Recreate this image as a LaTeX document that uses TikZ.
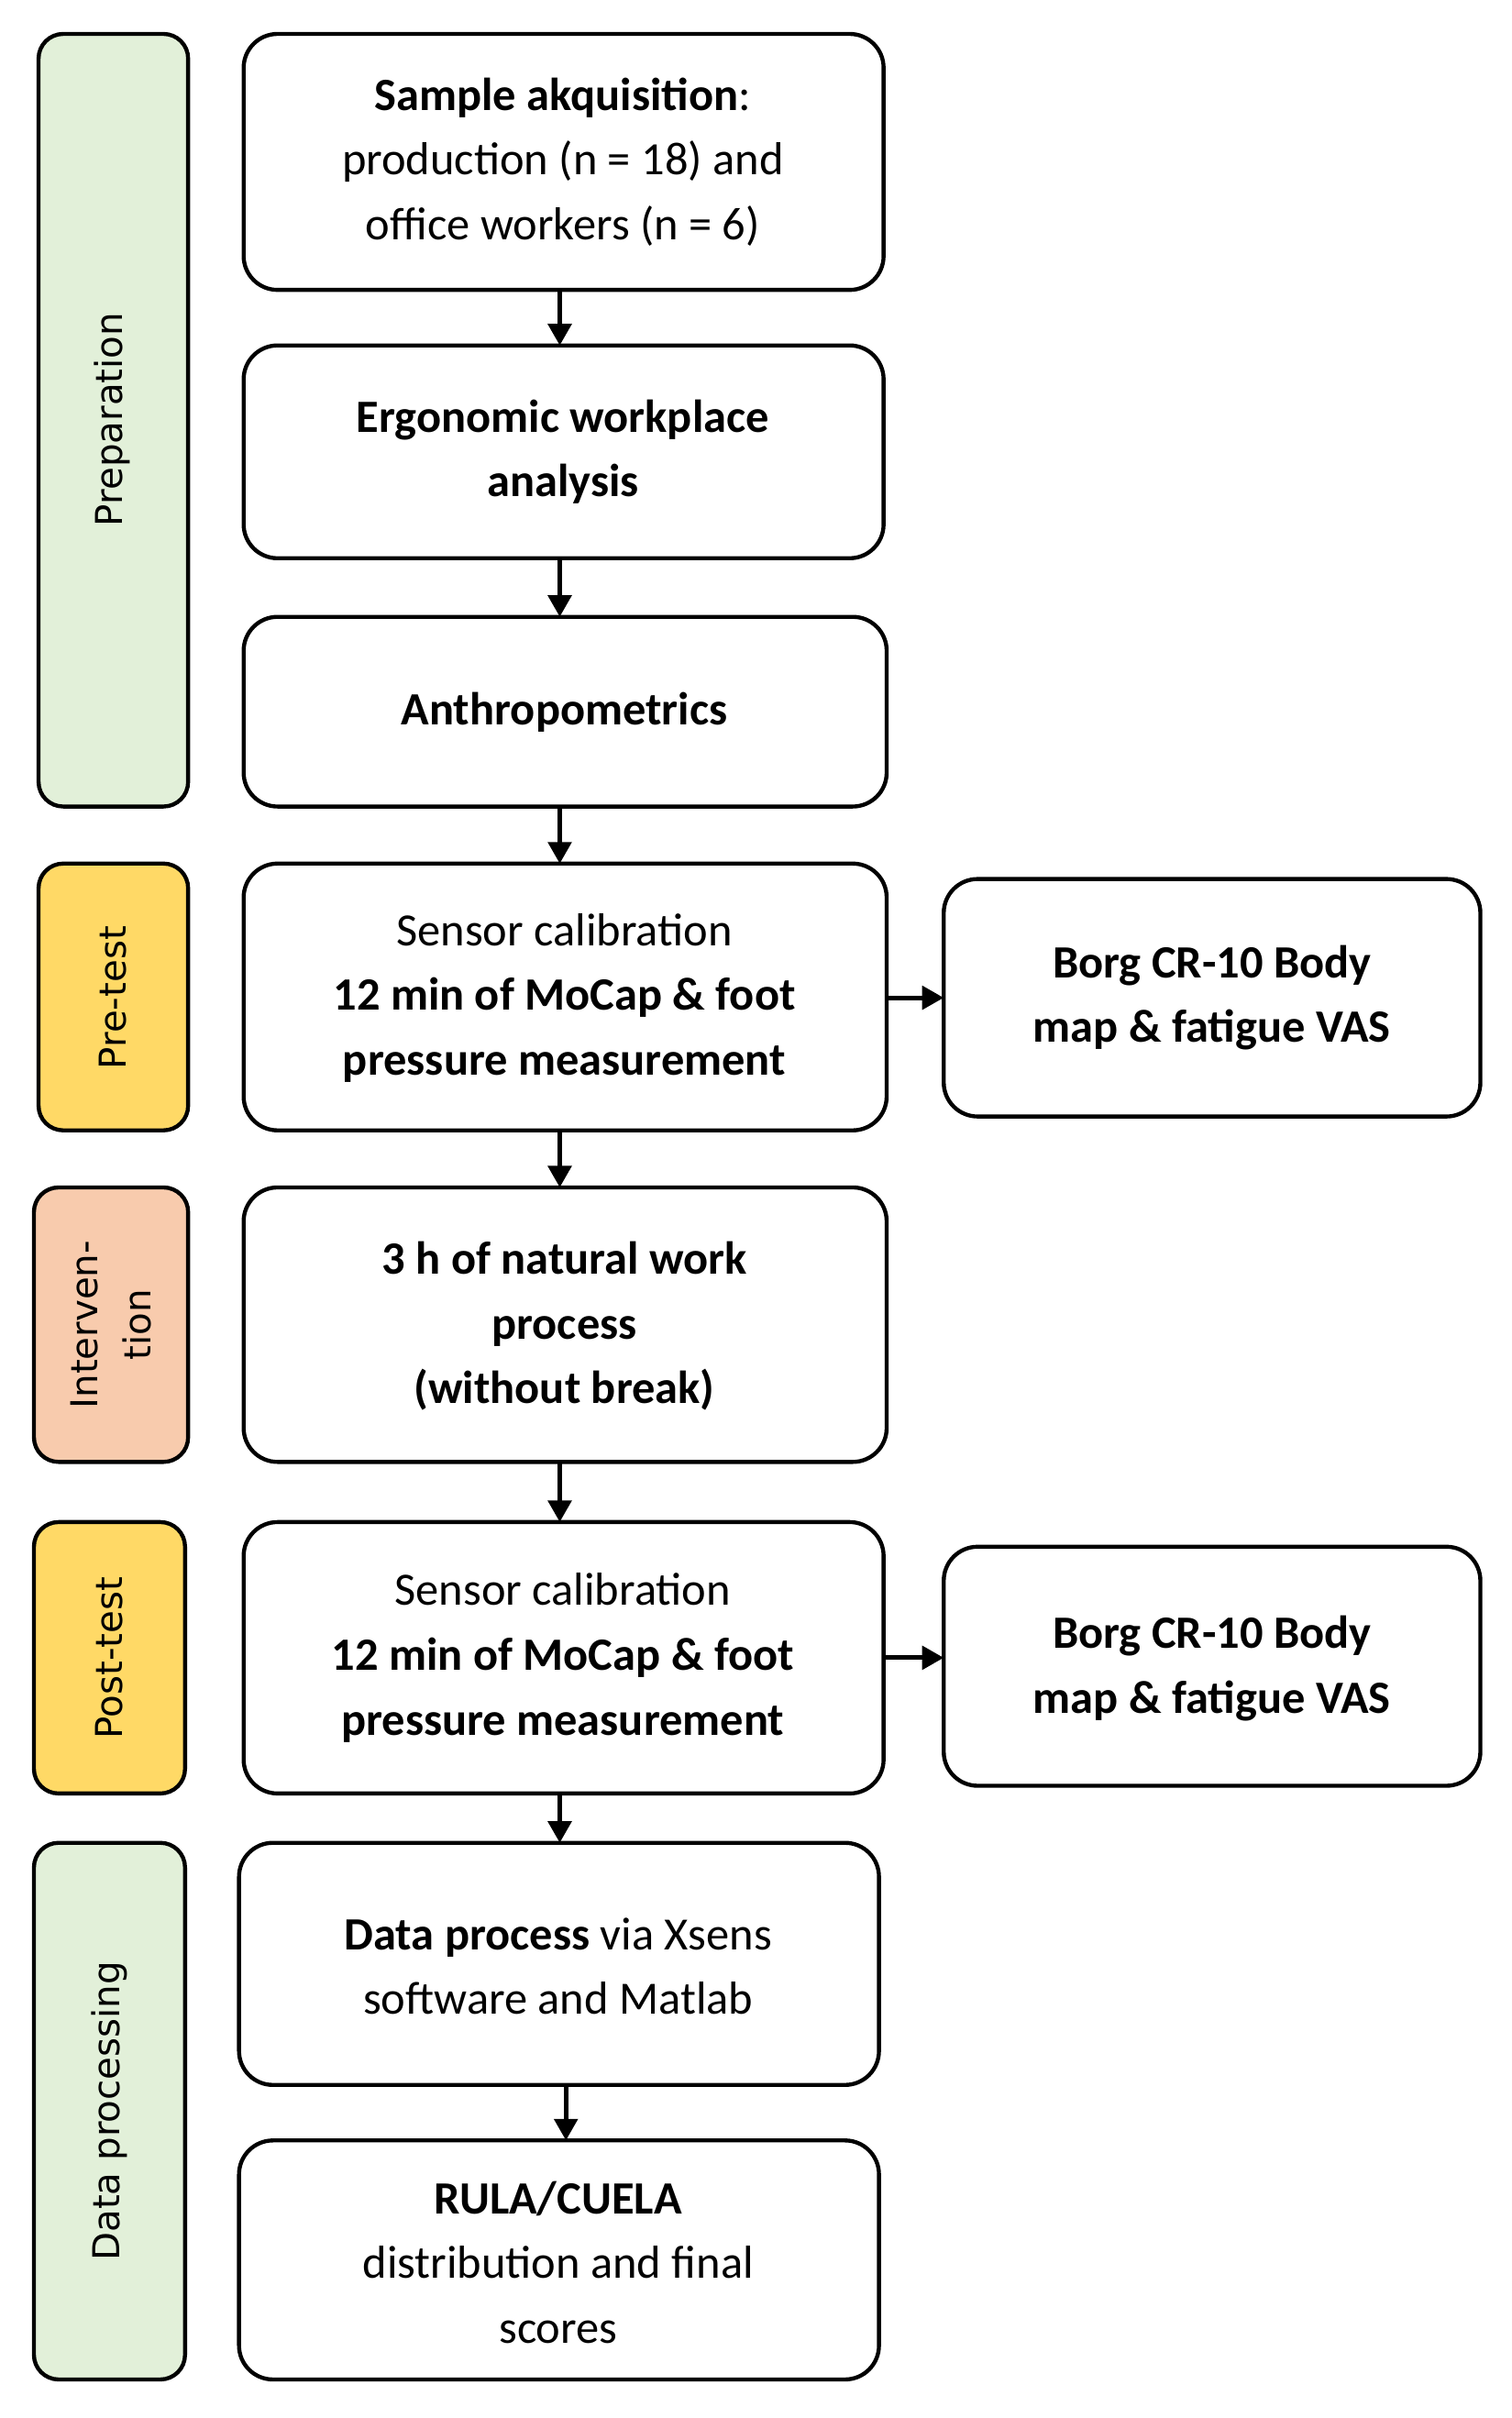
\documentclass[tikz,border=0pt]{standalone}
\usepackage{fontspec}
\setmainfont{Carlito}
\newfontfamily\vfont{DejaVu Sans}
\usetikzlibrary{arrows.meta}
\begin{document}
\begin{tikzpicture}[x=1pt,y=-1pt,
 box/.style={draw,line width=2.6pt,rounded corners=22pt,fill=white},
 ph/.style={draw,line width=2.6pt,rounded corners=16pt},
 txt/.style={align=center,font=\fontsize{30}{42}\selectfont},
 ptxt/.style={align=center,rotate=90,font=\vfont\fontsize{24}{34}\selectfont},
 arr/.style={line width=3pt,-{Triangle[length=14pt,width=15pt]}}]
\useasboundingbox (0,0) rectangle (980,1568);
\definecolor{pgreen}{HTML}{E2F0D9}
\definecolor{pyel}{HTML}{FFD966}
\definecolor{psal}{HTML}{F8CBAD}
% phases
\draw[ph,fill=pgreen] (25,22) rectangle (122,523);
\node[ptxt] (p1) at (73,272) {Preparation};
\draw[ph,fill=pyel] (25,560) rectangle (122,733);
\node[ptxt] (p2) at (73,647) {Pre-test};
\draw[ph,fill=psal] (22,770) rectangle (122,948);
\node[ptxt] (p3) at (72,859) {Interven-\\tion};
\draw[ph,fill=pyel] (22,987) rectangle (120,1163);
\node[ptxt] (p4) at (71,1075) {Post-test};
\draw[ph,fill=pgreen] (22,1195) rectangle (120,1543);
\node[ptxt] (p5) at (71,1369) {Data processing};
% boxes
\draw[box] (158,22) rectangle (573,188); \coordinate (b1t) at (365,22); \coordinate (b1b) at (363,188);
\node[txt] (t1) at (365,105) {\textbf{Sample akquisition}:\\production (n = 18) and\\office workers (n = 6)};
\draw[box] (158,224) rectangle (573,362); \coordinate (b2t) at (363,224); \coordinate (b2b) at (363,362);
\node[txt] (t2) at (365,293) {\textbf{Ergonomic workplace}\\\textbf{analysis}};
\draw[box] (158,400) rectangle (575,523); \coordinate (b3t) at (363,400); \coordinate (b3b) at (363,523);
\node[txt] (t3) at (366,462) {\textbf{Anthropometrics}};
\draw[box] (158,560) rectangle (575,733); \coordinate (b4t) at (363,560); \coordinate (b4b) at (363,733); \coordinate (b4r) at (575,647);
\node[txt] (t4) at (366,647) {Sensor calibration\\\textbf{12 min of MoCap \& foot}\\\textbf{pressure measurement}};
\draw[box] (612,570) rectangle (960,724); \coordinate (s1l) at (612,647);
\node[txt] (ts1) at (786,647) {\textbf{Borg CR-10 Body}\\\textbf{map \& fatigue VAS}};
\draw[box] (158,770) rectangle (575,948); \coordinate (b5t) at (363,770); \coordinate (b5b) at (363,948);
\node[txt] (t5) at (366,860) {\textbf{3 h of natural work}\\\textbf{process}\\\textbf{(without break)}};
\draw[box] (158,987) rectangle (573,1163); \coordinate (b6t) at (363,987); \coordinate (b6b) at (363,1163); \coordinate (b6r) at (573,1075);
\node[txt] (t6) at (365,1075) {Sensor calibration\\\textbf{12 min of MoCap \& foot}\\\textbf{pressure measurement}};
\draw[box] (612,1003) rectangle (960,1158); \coordinate (s2l) at (612,1075);
\node[txt] (ts2) at (786,1082) {\textbf{Borg CR-10 Body}\\\textbf{map \& fatigue VAS}};
\draw[box] (155,1195) rectangle (570,1352); \coordinate (b7t) at (363,1195); \coordinate (b7b) at (367,1352);
\node[txt] (t7) at (362,1275) {\textbf{Data process} via Xsens\\software and Matlab};
\draw[box] (155,1388) rectangle (570,1543); \coordinate (b8t) at (367,1388);
\node[txt] (t8) at (362,1467) {\textbf{RULA/CUELA}\\distribution and final\\scores};
% arrows
\draw[arr] (b1b) -- (b2t);
\draw[arr] (b2b) -- (b3t);
\draw[arr] (b3b) -- (b4t);
\draw[arr] (b4b) -- (b5t);
\draw[arr] (b5b) -- (b6t);
\draw[arr] (b6b) -- (b7t);
\draw[arr] (b7b) -- (b8t);
\draw[arr] (b4r) -- (s1l);
\draw[arr] (b6r) -- (s2l);
\end{tikzpicture}
\end{document}
